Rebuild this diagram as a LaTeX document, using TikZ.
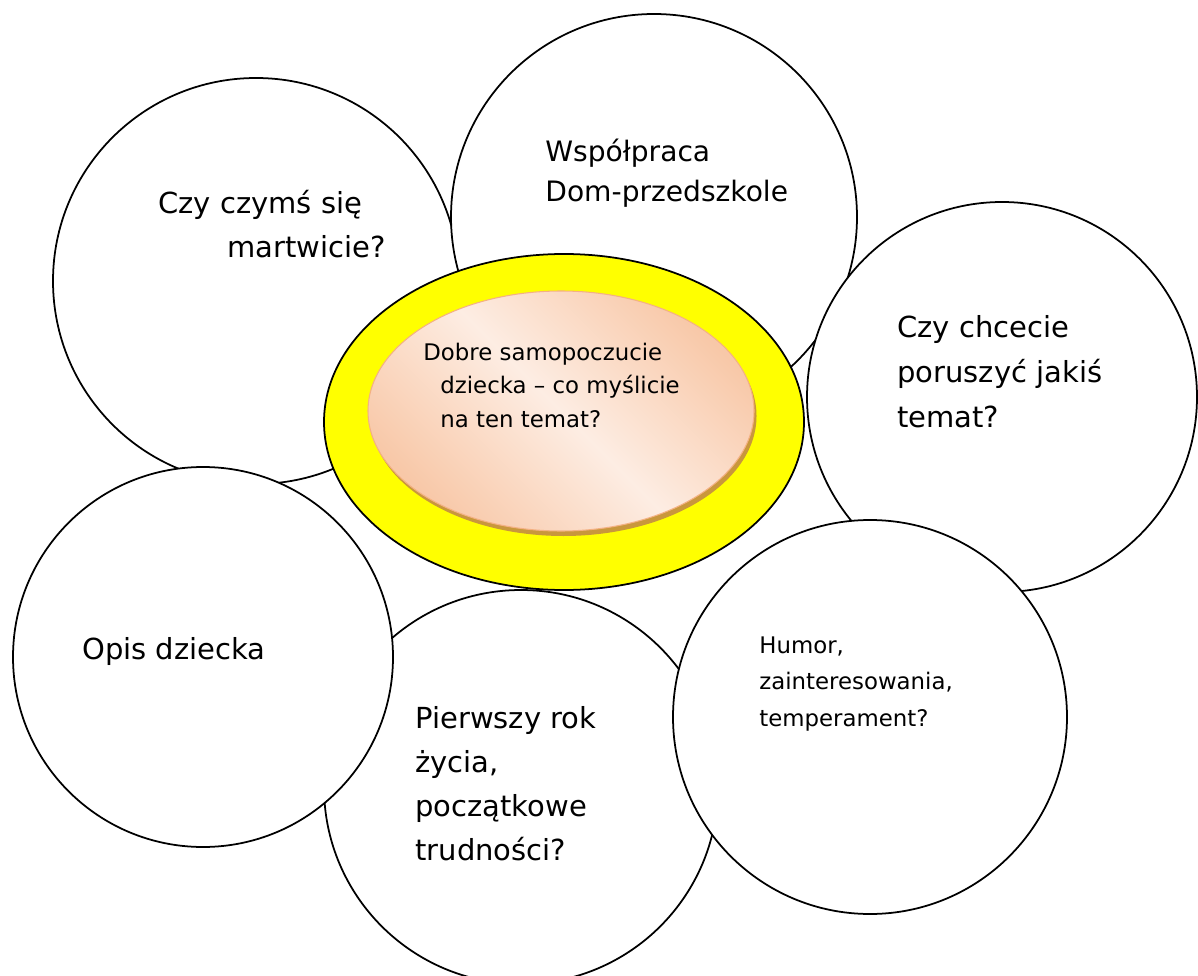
\documentclass[tikz,border=0pt]{standalone}
\usepackage{fontspec}
\setmainfont{DejaVu Sans}
\usetikzlibrary{shapes.geometric, shadows}

\definecolor{peachdark}{HTML}{F8C8A8}
\definecolor{peachlight}{HTML}{FDEDE3}
\definecolor{peachline}{HTML}{F4B183}
\definecolor{shadowtan}{HTML}{C9973C}
\definecolor{sunyellow}{HTML}{FFFF00}

\tikzset{
    bubble/.style={draw, circle, fill=white, line width=1pt, inner sep=0pt},
    bigtext/.style={anchor=base west, align=left, inner sep=0pt, font=\fontsize{16.5pt}{25.5pt}\selectfont},
    smalltext/.style={anchor=base west, align=left, inner sep=0pt, font=\fontsize{13pt}{19pt}\selectfont},
}

\begin{document}
\begin{tikzpicture}
    \useasboundingbox (0, 0) rectangle (23.96, 19.5);

    \node[bubble, minimum size=8.12cm] (worry) at (5.12, 13.88) {};
    \node[bubble, minimum size=8.12cm] (coop) at (13.08, 15.16) {};
    \node[bubble, minimum size=7.8cm] (topic) at (20.04, 11.56) {};
    \node[bubble, minimum size=7.88cm] (firstyear) at (10.42, 3.76) {};
    \node[bubble, minimum size=7.6cm] (description) at (4.06, 6.36) {};
    \node[bubble, minimum size=7.88cm] (humor) at (17.40, 5.16) {};

    \node[draw, ellipse, fill=sunyellow, line width=1pt, inner sep=0pt,
          minimum width=9.6cm, minimum height=6.72cm] (sun) at (11.28, 11.06) {};
    \node[draw=peachline, ellipse, line width=0.6pt, inner sep=0pt,
          left color=peachdark, right color=peachdark, middle color=peachlight, shading angle=-45,
          drop shadow={shadow xshift=0.05cm, shadow yshift=-0.1cm, fill=shadowtan, opacity=1},
          minimum width=7.72cm, minimum height=4.8cm] (core) at (11.22, 11.28) {};

    \node[bigtext] (worrytext) at (3.16, 14.34) {Czy czymś się\\\hspace{1.38cm}martwicie?};
    \node[bigtext, font=\fontsize{16pt}{22.8pt}\selectfont] (cooptext) at (10.90, 15.46) {Współpraca\\Dom-przedszkole};
    \node[bigtext] (topictext) at (17.94, 10.96) {Czy chcecie\\poruszyć jakiś\\temat?};
    \node[bigtext] (desctext) at (1.64, 6.32) {Opis dziecka};
    \node[bigtext, font=\fontsize{16.5pt}{25pt}\selectfont] (yeartext) at (8.30, 2.30) {Pierwszy rok\\życia,\\początkowe\\trudności?};
    \node[smalltext, font=\fontsize{13pt}{20.5pt}\selectfont] (humortext) at (15.18, 4.98) {Humor,\\zainteresowania,\\temperament?};
    \node[smalltext] (coretext) at (8.46, 10.96) {Dobre samopoczucie\\\hspace{0.34cm}dziecka – co myślicie\\\hspace{0.34cm}na ten temat?};
\end{tikzpicture}
\end{document}
